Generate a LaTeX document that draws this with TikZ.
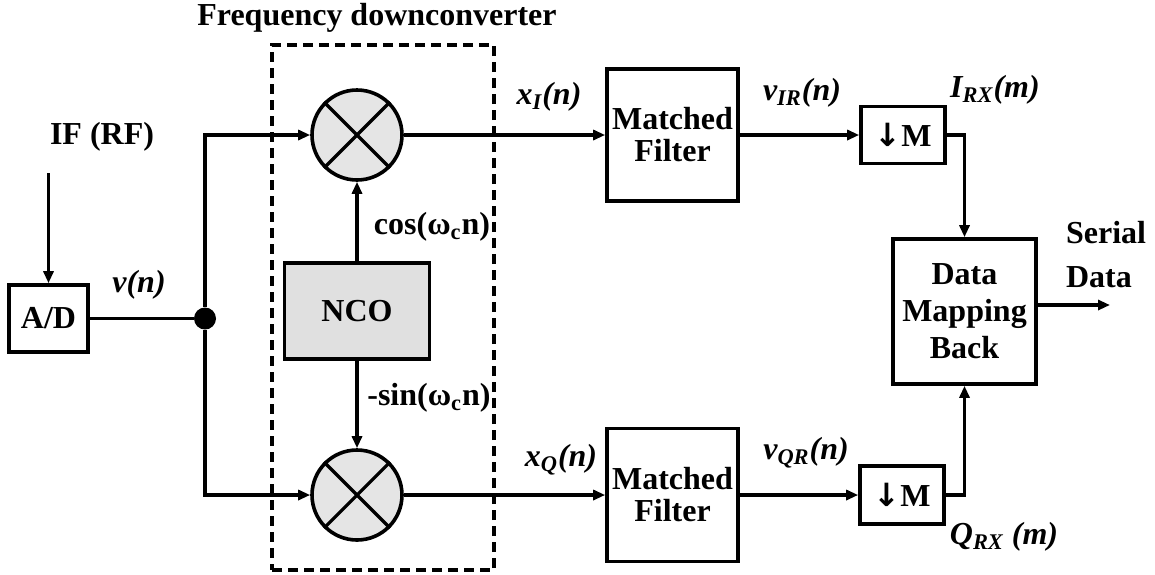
\documentclass[tikz,border=0pt]{standalone}
\usepackage{fontspec}
\setmainfont{Liberation Serif}
\newfontfamily\arrowfont{DejaVu Sans}
\usepackage{tikz}
\usetikzlibrary{arrows.meta,shapes.geometric}

\begin{document}
\begin{tikzpicture}[x=0.5pt, y=-0.5pt,
    font=\fontsize{16}{16}\selectfont\bfseries,
    block/.style={draw, line width=1.8pt, align=center, inner sep=0pt},
    mixer/.style={draw, circle, line width=1.8pt, fill=black!10, minimum size=45pt, inner sep=0pt},
    wire/.style={line width=1.6pt},
    sig/.style={wire, -{Triangle[length=6pt, width=5pt]}},
    sym/.style={font=\fontsize{16}{16}\selectfont\bfseries\itshape, inner sep=0pt}]
    \useasboundingbox (0,0) rectangle (1155,574);

    % The downconverter frame
    \node (title) at (377,18) {Frequency downconverter};
    \node[draw, line width=1.6pt, dash pattern=on 5pt off 3pt,
        minimum width=111pt, minimum height=262.5pt] (dc) at (383,307.5) {};

    % Sampling front end
    \coordinate (ifin) at (48.5,173);
    \node (iflbl) at (102,137) {IF (RF)};
    \node[block, minimum width=39.5pt, minimum height=33.5pt] (ad) at (48.5,318.5) {A/D};
    \node[sym] (vn) at (139,285) {v(n)};
    \node[circle, fill, minimum size=11pt, inner sep=0pt] (split) at (205,318.5) {};

    % Mixers and the NCO
    \node[mixer] (mixI) at (357,135) {};
    \node[mixer] (mixQ) at (357,495) {};
    \node[block, fill=black!12, minimum width=72.5pt, minimum height=48pt] (nco) at (357,311) {NCO};
    \foreach \m in {mixI, mixQ} {
        \draw[wire] (\m.north west) -- (\m.south east);
        \draw[wire] (\m.north east) -- (\m.south west);
    }
    \node (cosl) at (432,227) {cos(ω\textsubscript{c}n)};
    \node (sinl) at (429,398) {-sin(ω\textsubscript{c}n)};

    % Filters and decimators
    \node[block, minimum width=65.5pt, minimum height=66pt] (mfI) at (672.5,135) {Matched\\Filter};
    \node[block, minimum width=65.5pt, minimum height=66.5pt] (mfQ) at (672.5,495) {Matched\\Filter};
    \node[block, minimum width=42pt, minimum height=28.5pt] (dsI) at (903,135) {{\arrowfont ↓}M};
    \node[block, minimum width=42pt, minimum height=29pt] (dsQ) at (902,495) {{\arrowfont ↓}M};
    \node[sym] (xI) at (549,97) {x\textsubscript{I}(n)};
    \node[sym] (xQ) at (561,460) {x\textsubscript{Q}(n)};
    \node[sym] (vI) at (802,93) {v\textsubscript{IR}(n)};
    \node[sym] (vQ) at (806,453) {v\textsubscript{QR}(n)};
    \node[sym] (iI) at (995,90) {I\textsubscript{RX}(m)};
    \node[sym] (qQ) at (1004,537) {Q\textsubscript{RX} (m)};

    % Symbol demapper
    \node[block, minimum width=71.5pt, minimum height=72.5pt] (map) at (964.5,311.5) {Data\\[2.5pt]Mapping\\[2.5pt]Back};
    \node[anchor=west, align=left] (serl) at (1059,255) {Serial\\[6pt]Data};
    \coordinate (out) at (1110,305);

    % Connections
    \draw[sig] (ifin) -- (ad);
    \draw[wire] (ad) -- (split);
    \draw[sig] (split) |- (mixI);
    \draw[sig] (split) |- (mixQ);
    \draw[sig] (nco) -- (mixI);
    \draw[sig] (nco) -- (mixQ);
    \draw[sig] (mixI) -- (mfI);
    \draw[sig] (mixQ) -- (mfQ);
    \draw[sig] (mfI) -- (dsI);
    \draw[sig] (mfQ) -- (dsQ);
    \draw[sig] (dsI) -| (map);
    \draw[sig] (dsQ) -| (map);
    \draw[sig] (map.east |- out) -- (out);

\end{tikzpicture}
\end{document}
